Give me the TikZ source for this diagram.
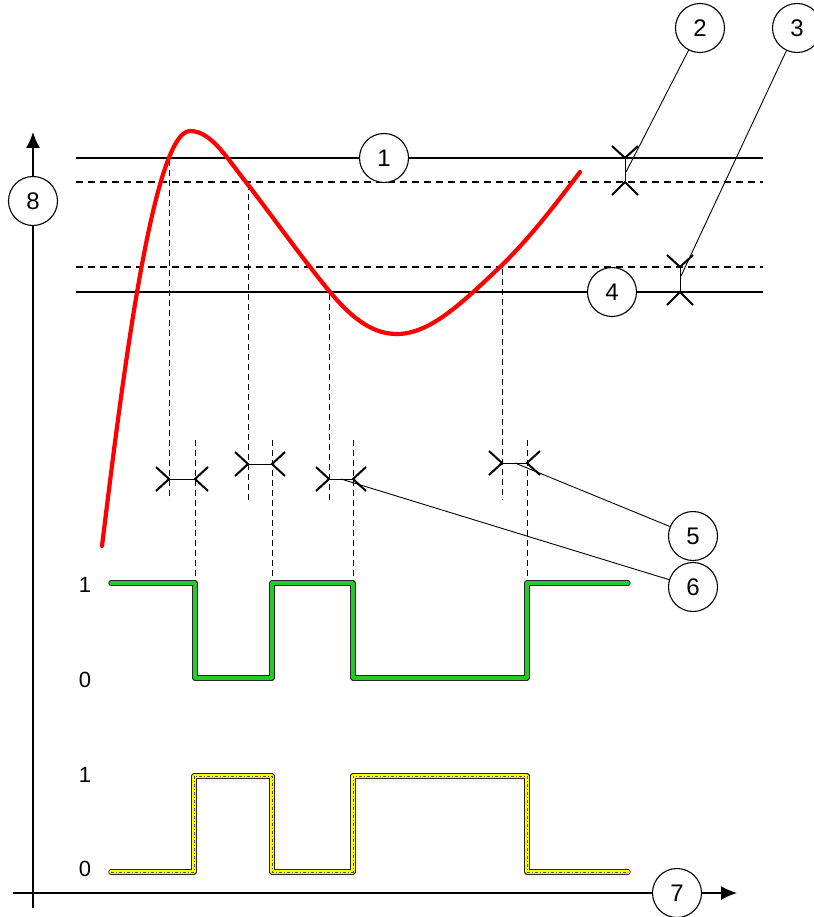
\documentclass[tikz,border=0pt]{standalone}
\usepackage{fontspec}
\setmainfont{Liberation Sans}
\usetikzlibrary{arrows.meta}
\definecolor{sigred}{RGB}{255,0,0}
\definecolor{siggreen}{RGB}{40,200,40}
\definecolor{sigyellow}{RGB}{255,255,0}
\newcommand\dimH[3]{%
  \draw[tick] (#1-13,#3-12) -- (#1,#3) -- (#1-13,#3+12);
  \draw[tick] (#2+13,#3-12) -- (#2,#3) -- (#2+13,#3+12);
  \draw[line width=1pt] (#1,#3) -- (#2,#3);}
\newcommand\dimV[3]{%
  \draw[tick] (#1-13,#2-12) -- (#1,#2) -- (#1+13,#2-12);
  \draw[tick] (#1-13,#3+13) -- (#1,#3) -- (#1+13,#3+13);
  \draw[line width=1pt] (#1,#2) -- (#1,#3);}
\begin{document}
\begin{tikzpicture}[x=1pt,y=-1pt,
  callout/.style={circle,draw,line width=1.1pt,minimum size=49pt,inner sep=0pt,
    font=\fontsize{24}{24}\selectfont,fill=white},
  refline/.style={line width=1.2pt},
  refdash/.style={line width=1.2pt,dash pattern=on 7pt off 5pt},
  vdash/.style={line width=1pt,dash pattern=on 6pt off 4pt},
  leader/.style={line width=0.9pt},
  tick/.style={line width=2pt},
  lvl/.style={font=\fontsize{22}{22}\selectfont},
  axis/.style={line width=1.5pt}]
\useasboundingbox (0,0) rectangle (813,917);

% reference lines
\draw[refline] (76,158) -- (763,158);
\draw[refdash] (76,182) -- (763,182);
\draw[refdash] (76,267) -- (763,267);
\draw[refline] (76,292) -- (763,292);

% vertical dashed lines
\draw[vdash] (169,160) -- (169,500);
\draw[vdash] (195,440) -- (195,583);
\draw[vdash] (248,184) -- (248,500);
\draw[vdash] (272,440) -- (272,583);
\draw[vdash] (329,294) -- (329,500);
\draw[vdash] (353,440) -- (353,583);
\draw[vdash] (502,269) -- (502,500);
\draw[vdash] (527,440) -- (527,583);

% red curve
\draw[sigred,line width=4.2pt,line cap=round]
 (102,546) .. controls (120,400) and (152,131) .. (190,131)
 .. controls (212,131) and (228,160) .. (249,186)
 .. controls (275,220) and (302,258) .. (330,292)
 .. controls (355,322) and (375,334) .. (397,334)
 .. controls (430,334) and (462,303) .. (500,267)
 .. controls (530,238) and (555,205) .. (580,172);

% hysteresis markers
\dimV{625}{158}{182}
\dimV{680}{267}{292}
\dimH{169}{195}{479}
\dimH{248}{272}{464}
\dimH{329}{353}{479}
\dimH{502}{527}{463}

% green signal
\draw[black!85,line width=5.4pt,line join=round,line cap=round]
 (111,583) -- (195,583) -- (195,678) -- (272,678) -- (272,583) -- (353,583)
 -- (353,678) -- (527,678) -- (527,583) -- (628,583);
\draw[siggreen,line width=3.4pt,line join=round,line cap=round]
 (111,583) -- (195,583) -- (195,678) -- (272,678) -- (272,583) -- (353,583)
 -- (353,678) -- (527,678) -- (527,583) -- (628,583);

% yellow signal
\draw[black!85,line width=5.4pt,line join=round,line cap=round]
 (111,872) -- (194,872) -- (194,776) -- (272,776) -- (272,872) -- (353,872)
 -- (353,776) -- (527,776) -- (527,872) -- (628,872);
\draw[sigyellow,line width=3.6pt,line join=round,line cap=round]
 (111,872) -- (194,872) -- (194,776) -- (272,776) -- (272,872) -- (353,872)
 -- (353,776) -- (527,776) -- (527,872) -- (628,872);
\draw[black!70,line width=0.5pt,dash pattern=on 3pt off 2pt on 1pt off 2pt]
 (111,872) -- (194,872) -- (194,776) -- (272,776) -- (272,872) -- (353,872)
 -- (353,776) -- (527,776) -- (527,872) -- (628,872);

% level labels
\node[lvl] (g1) at (85,585) {1};
\node[lvl] (g0) at (85,680) {0};
\node[lvl] (y1) at (85,775) {1};
\node[lvl] (y0) at (85,869) {0};

% callouts
\node[callout] (c1) at (384,158) {1};
\node[callout] (c2) at (700,28) {2};
\node[callout] (c3) at (797,28) {3};
\node[callout] (c4) at (612,292) {4};
\node[callout] (c5) at (693,536) {5};
\node[callout] (c6) at (693,587) {6};
\node[callout] (c7) at (677,893) {7};
\node[callout] (c8) at (33,201) {8};

% leader lines
\coordinate (e2) at (626,172);
\coordinate (e3) at (681,276);
\coordinate (e5) at (515,463);
\coordinate (e6) at (341,479);
\draw[leader] (c2) -- (e2);
\draw[leader] (c3) -- (e3);
\draw[leader] (c5) -- (e5);
\draw[leader] (c6) -- (e6);

% axes
\coordinate (xa) at (13,893);
\coordinate (xb) at (737,893);
\coordinate (ya) at (33,908);
\coordinate (yb) at (33,132);
\draw[axis] (xa) -- (c7.west);
\draw[axis,-{Latex[length=16pt,width=14pt]}] (c7.east) -- (xb);
\draw[axis] (ya) -- (c8.south);
\draw[axis,-{Latex[length=16pt,width=14pt]}] (c8.north) -- (yb);
\end{tikzpicture}
\end{document}
